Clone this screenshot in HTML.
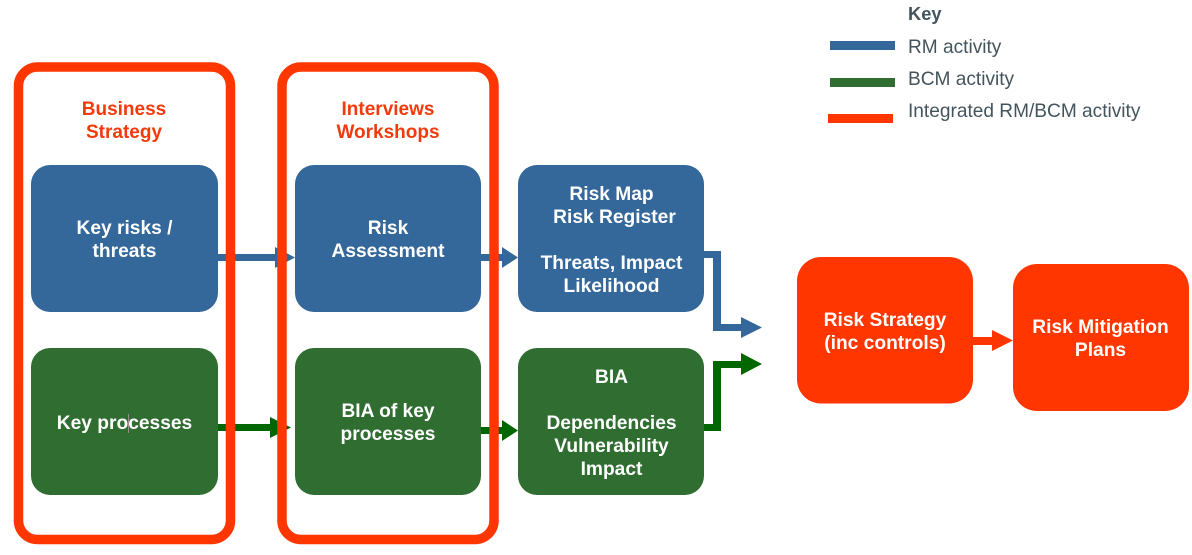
<!DOCTYPE html>
<html>
<head>
<meta charset="utf-8">
<style>
html,body{margin:0;padding:0;background:#fff;width:1192px;height:555px;overflow:hidden}
svg{display:block}
text{font-family:"Liberation Sans",sans-serif}
.w{font-weight:700;font-size:19.2px;fill:#fff;text-anchor:middle}
.r{font-weight:700;font-size:19px;fill:#f23a0c;text-anchor:middle}
.k{font-size:19.1px;fill:#44545c}
</style>
</head>
<body>
<svg width="1192" height="555" viewBox="0 0 1192 555" xmlns="http://www.w3.org/2000/svg">
<rect width="1192" height="555" fill="#fff"/>

<!-- connectors under frames -->
<path d="M218 254H275V247L295 257.5L275 268V261H218Z" fill="#34679a"/>
<path d="M218 424H270V417L291 427.5L270 438V431H218Z" fill="#006600"/>
<path d="M481 254H502V247L518 257.5L502 268V261H481Z" fill="#34679a"/>
<path d="M481 427H502V420L518 430.5L502 441V434H481Z" fill="#006600"/>
<path d="M704 251H721V324H741V317L762 327.5L741 338V331H713V258H704Z" fill="#34679a"/>
<path d="M704 424H713V361H741V353L762 364L741 375V368H721V431H704Z" fill="#006600"/>
<path d="M973 337H992V330L1013 340.500L992 351V345H973Z" fill="#ff3600"/>

<!-- boxes -->
<rect x="31" y="165" width="187" height="147" rx="19" fill="#34679a"/>
<rect x="295" y="165" width="186" height="147" rx="19" fill="#34679a"/>
<rect x="518" y="165" width="186" height="147" rx="19" fill="#34679a"/>
<rect x="31" y="348" width="187" height="147" rx="19" fill="#2f6e30"/>
<rect x="295" y="348" width="186" height="147" rx="19" fill="#2f6e30"/>
<rect x="518" y="348" width="186" height="147" rx="19" fill="#2f6e30"/>
<rect x="797" y="257" width="176" height="146.500" rx="24" fill="#ff3600"/>
<rect x="1013" y="264" width="176" height="147" rx="24" fill="#ff3600"/>

<!-- frames -->
<rect x="18.500" y="67" width="212" height="472.500" rx="19" fill="none" stroke="#ff3600" stroke-width="9.500"/>
<rect x="282" y="67" width="212" height="472.500" rx="19" fill="none" stroke="#ff3600" stroke-width="9.500"/>

<!-- frame titles -->
<text class="r" x="124" y="115">Business</text>
<text class="r" x="124" y="138">Strategy</text>
<text class="r" x="388" y="115">Interviews</text>
<text class="r" x="388" y="138">Workshops</text>

<!-- box labels -->
<text class="w" x="124.500" y="234">Key risks /</text>
<text class="w" x="124.500" y="257">threats</text>
<text class="w" x="388" y="234">Risk</text>
<text class="w" x="388" y="257">Assessment</text>
<text class="w" x="611.500" y="200">Risk Map</text>
<text class="w" x="614.500" y="223">Risk Register</text>
<text class="w" x="611.500" y="269">Threats, Impact</text>
<text class="w" x="611.500" y="292">Likelihood</text>
<text class="w" x="124.500" y="429">Key processes</text>
<rect x="128" y="414" width="1" height="19" fill="#9a8f90"/>
<text class="w" x="388" y="417">BIA of key</text>
<text class="w" x="388" y="440">processes</text>
<text class="w" x="611.500" y="383">BIA</text>
<text class="w" x="611.500" y="429">Dependencies</text>
<text class="w" x="611.500" y="452">Vulnerability</text>
<text class="w" x="611.500" y="475">Impact</text>
<text class="w" x="885" y="326">Risk Strategy</text>
<text class="w" x="885" y="349">(inc controls)</text>
<text class="w" x="1100.500" y="333">Risk Mitigation</text>
<text class="w" x="1100.500" y="356">Plans</text>

<!-- legend -->
<text x="908" y="20" font-size="18.300" font-weight="700" fill="#44545c">Key</text>
<rect x="830" y="41" width="65" height="9" fill="#34679a"/>
<text class="k" x="908" y="53">RM activity</text>
<rect x="830" y="78" width="65" height="9" fill="#2f6e30"/>
<text class="k" x="908" y="85">BCM activity</text>
<rect x="828" y="114" width="65" height="9" fill="#ff3600"/>
<text class="k" x="908" y="117">Integrated RM/BCM activity</text>
</svg>
</body>
</html>
